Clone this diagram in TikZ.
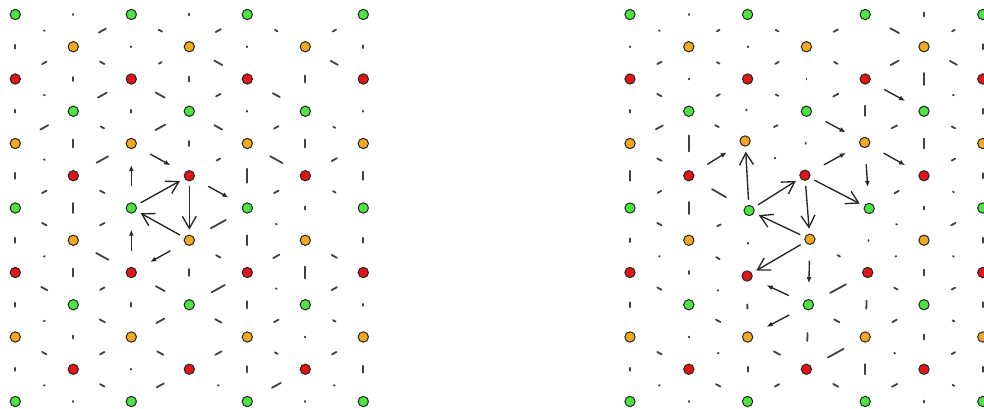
\documentclass[tikz,border=0pt]{standalone}
\usetikzlibrary{calc,arrows.meta}
\definecolor{sitegreen}{RGB}{75,228,65}
\definecolor{siteorange}{RGB}{244,168,34}
\definecolor{sitered}{RGB}{226,20,22}
\begin{document}
\begin{tikzpicture}[x=1pt,y=-1pt,
  site/.style={circle,draw=black!85,line width=1pt,inner sep=0pt,minimum size=10.3pt},
  bondmark/.style={draw=black!75,line width=1.8pt,line cap=round},
  bigarrow/.style={draw=black!85,line width=1.35pt,-{Straight Barb[length=12pt,width=14pt]},
    shorten <=5pt,shorten >=5pt},
  smallarrow/.style={draw=black!85,line width=1.35pt,-{Latex[length=6pt,width=5pt]},
    shorten <=16pt,shorten >=16pt}]
\useasboundingbox (0,0) rectangle (984,409);
\clip (0,0) rectangle (984,409);
\foreach \p/\xo/\dx in {L/15.3/58, R/630/58.8}
\foreach \i in {0,...,6}
\foreach \h in {-1,...,13}{
  \pgfmathtruncatemacro\odd{mod(\h+\i+2,2)}
  \ifnum\odd=0 \coordinate (\p-\i-\h) at (\xo+\i*\dx,14.5+\h*32.25); \fi
}
\foreach \n/\sx/\sy in {2-4/-2.5/-2.5, 2-6/1.5/2.5, 2-8/-0.5/3.5, 3-5/-1.5/-0.5,
  3-7/3.5/-1, 3-9/2/0, 4-4/-0.5/-1, 4-6/4/0.5, 4-8/2.5/0}
  \coordinate (R-\n) at ($(R-\n)+(\sx,\sy)$);
\foreach \p in {L,R}
\foreach \i in {0,...,6}
\foreach \h in {0,...,12}{
  \pgfmathtruncatemacro\odd{mod(\h+\i,2)}
  \ifnum\odd=0
    \pgfmathtruncatemacro\c{mod((\h+3*\i)/2,3)}
    \ifcase\c \def\col{sitegreen}\or\def\col{sitered}\or\def\col{siteorange}\fi
    \node[site,fill=\col] (\p-\i-\h) at (\p-\i-\h) {};
  \fi
}
\foreach \p/\i/\lens in {
  L/0/{4,3,6,5,4,3}, L/1/{1,4,8,10,8,3,1}, L/2/{1,3,-1,-1,4,1},
  L/3/{2,5,5,-1,7,-1,-1}, L/4/{1,1,14,10,7,6}, L/5/{-1,7,8,3,12,1,1},
  L/6/{3,1,8,5,2,7},
  R/0/{1,3,10,4,5,3}, R/1/{1,1,16,12,3,1,1}, R/2/{1,1,-1,1,4,5},
  R/3/{-1,1,1,-1,-1,8,-1}, R/4/{-1,10,-1,1,8,10}, R/5/{4,12,10,3,6,5,2},
  R/6/{5,5,5,5,5,5}}{
  \foreach \l [count=\k from 0] in \lens {
    \ifnum\l>0
      \pgfmathtruncatemacro\ha{2*\k-mod(\i,2)}
      \pgfmathtruncatemacro\hb{\ha+2}
      \pgfmathsetlengthmacro\hl{\l/2}
      \coordinate (m) at ($(\p-\i-\ha)!.5!(\p-\i-\hb)$);
      \draw[bondmark] ($(m)!\hl!(\p-\i-\ha)$) -- ($(m)!\hl!(\p-\i-\hb)$);
    \fi
  }
}
\foreach \p/\i/\lens in {
  L/0/{1,5,1,9,1,5,5,1,7,1,5,1}, L/1/{8,5,10,4,13,5,5,14,5,6,5,5},
  L/2/{4,3,10,11,-1,-1,-1,-1,10,9,7,8}, L/3/{6,9,5,9,4,-1,17,5,15,7,7,1},
  L/4/{3,-1,8,5,14,5,1,7,1,5,3,10}, L/5/{4,8,-1,2,6,3,-1,6,6,3,5,1},
  R/0/{1,5,5,8,5,4,5,1,5,-1,5,1}, R/1/{3,3,4,4,-1,16,4,4,1,5,1,5},
  R/2/{3,4,3,4,1,-1,-1,-1,-1,-1,7,5}, R/3/{5,4,6,-1,-1,-1,-1,3,18,6,18,6},
  R/4/{10,9,-1,6,-1,5,1,1,4,5,1,6}, R/5/{3,8,1,4,4,1,5,1,4,2,4,2}}{
  \foreach \l [count=\k from 0] in \lens {
    \ifnum\l>0
      \pgfmathtruncatemacro\j{\i+1}
      \pgfmathtruncatemacro\ha{\k+mod(\k+\i,2)}
      \pgfmathtruncatemacro\hb{2*\k+1-\ha}
      \pgfmathsetlengthmacro\hl{\l/2}
      \coordinate (m) at ($(\p-\i-\ha)!.5!(\p-\j-\hb)$);
      \draw[bondmark] ($(m)!\hl!(\p-\i-\ha)$) -- ($(m)!\hl!(\p-\j-\hb)$);
    \fi
  }
}
\foreach \a/\b in {2-6/3-5, 3-5/3-7, 3-7/2-6}
  \draw[bigarrow] (L-\a) -- (L-\b);
\foreach \a/\b in {2-4/3-5, 2-6/2-4, 3-5/4-6, 2-8/2-6, 3-7/2-8}
  \draw[smallarrow] (L-\a) -- (L-\b);
\foreach \a/\b in {2-6/2-4, 2-6/3-5, 3-5/3-7, 3-5/4-6, 3-7/2-6, 3-7/2-8}
  \draw[bigarrow] (R-\a) -- (R-\b);
\foreach \a/\b in {1-5/2-4, 3-3/4-4, 3-5/4-4, 4-2/5-3, 4-4/5-5, 4-4/4-6,
  3-7/3-9, 3-9/2-8, 3-9/2-10}
  \draw[smallarrow] (R-\a) -- (R-\b);
\end{tikzpicture}
\end{document}
